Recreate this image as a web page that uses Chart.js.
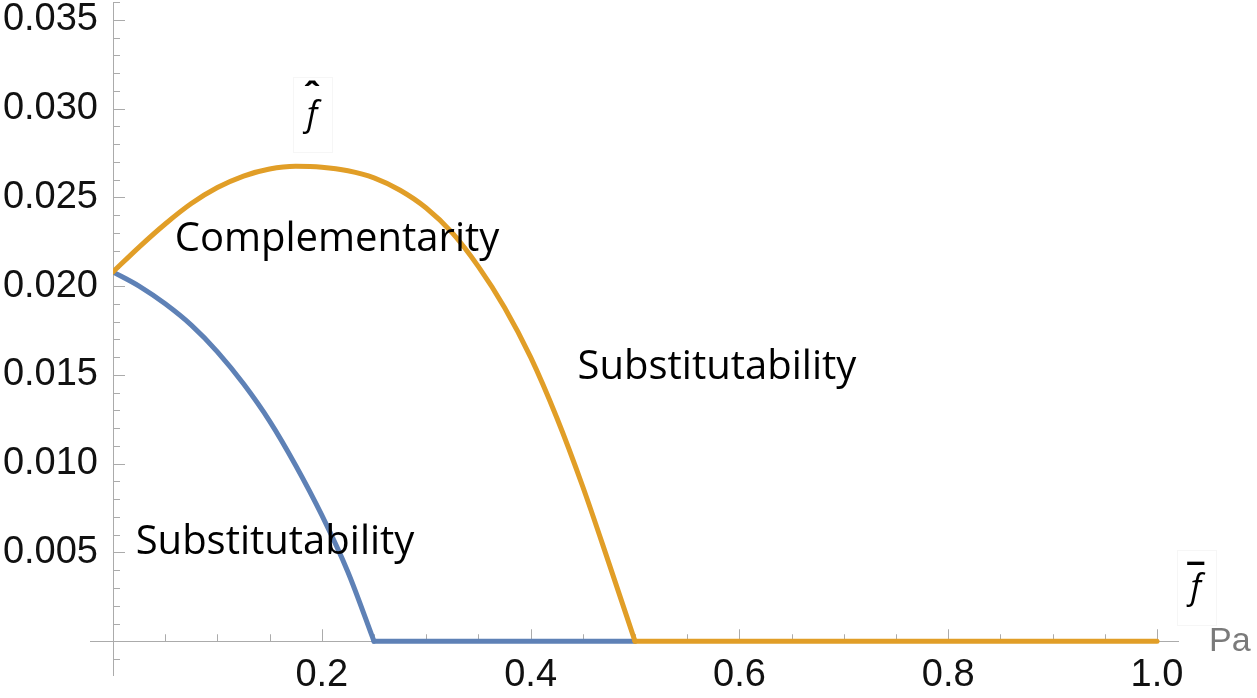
<!DOCTYPE html>
<html><head><meta charset="utf-8">
<script src="https://cdn.jsdelivr.net/npm/chart.js@4/dist/chart.umd.min.js"></script>
<style>html,body{margin:0;padding:0;background:#fff;}canvas{display:block;}</style>
</head><body>
<canvas id="c" width="1257" height="698"></canvas>
<script>
// ---- data ----
const orangeX = [0, 0.025, 0.05, 0.075, 0.1, 0.125, 0.15, 0.175, 0.2, 0.225, 0.25, 0.275, 0.3, 0.325, 0.35, 0.375, 0.4, 0.425, 0.45, 0.475, 0.5];
const orangeY = [0.0208, 0.0222, 0.0235, 0.02465, 0.02555, 0.0262, 0.0266, 0.02675, 0.0267, 0.0265, 0.0261, 0.0254, 0.0244, 0.0230, 0.0211, 0.0188, 0.0160, 0.0126, 0.0087, 0.0044, 0];
const orangeFlatX = [0.5, 1.0];
const orangeFlatY = [0, 0];
const blueX = [0, 0.025, 0.05, 0.075, 0.1, 0.125, 0.15, 0.175, 0.2, 0.225, 0.25];
const blueY = [0.0208, 0.0200, 0.0190, 0.0178, 0.0163, 0.0145, 0.0124, 0.0099, 0.0071, 0.0039, 0];
const blueFlatX = [0.25, 0.5];
const blueFlatY = [0, 0];
const xTickValues = [0.2, 0.4, 0.6, 0.8, 1.0];
const xTickLabels = ['0.2', '0.4', '0.6', '0.8', '1.0'];
const yTickValues = [0.005, 0.010, 0.015, 0.020, 0.025, 0.030, 0.035];
const yTickLabels = ['0.005', '0.010', '0.015', '0.020', '0.025', '0.030', '0.035'];
const regionLabels = ['Complementarity', 'Substitutability', 'Substitutability'];
const curveLabels = ['f', 'f'];
const curveMarks = ['ˆ', '¯'];
const axisLabel = 'Pa';

// ---- placement (data coordinates) and styles ----
const regionPos = [{x: 0.2146, y: 0.0226}, {x: 0.5785, y: 0.01542}, {x: 0.1552, y: 0.00555}];
const curveLabelPos = [{x: 0.1906, y: 0.02954, dy: -19}, {x: 1.0372, y: 0.0029, dy: -8}];
const axisLabelPos = {x: 1.0498, y: 0};
const ORANGE = '#E19E27';
const BLUE = '#5E81B6';
const AXIS = '#ababab';

const pts = (xs, ys) => xs.map((x, i) => ({x, y: ys[i]}));

const extras = {
  id: 'extras',
  beforeDatasetsDraw(chart) {
    const {ctx, scales: {x, y}} = chart;
    const y0 = y.getPixelForValue(0);
    const x0 = x.getPixelForValue(0);
    ctx.save();
    // faint label boxes
    ctx.strokeStyle = '#f6f6f6';
    ctx.lineWidth = 1;
    curveLabelPos.forEach(p => {
      const px = x.getPixelForValue(p.x), py = y.getPixelForValue(p.y);
      ctx.strokeRect(Math.round(px - 19) + 0.5, Math.round(py - 40) + 0.5, 39, 75);
    });
    ctx.strokeStyle = AXIS;
    ctx.beginPath();
    // x-axis extension left of the y-axis
    ctx.moveTo(90, Math.round(y0) + 0.5);
    ctx.lineTo(x0, Math.round(y0) + 0.5);
    // x ticks (inward, upward)
    for (let i = 1; i <= 20; i++) {
      const px = Math.round(x.getPixelForValue(i * 0.05)) + 0.5;
      const len = (i % 4 === 0) ? 12 : 7;
      ctx.moveTo(px, y0);
      ctx.lineTo(px, y0 - len);
    }
    // y ticks (inward, rightward)
    for (let i = -1; i <= 36; i++) {
      if (i === 0) continue;
      const py = Math.round(y.getPixelForValue(i / 1000)) + 0.5;
      const len = (i % 5 === 0) ? 12 : 7;
      ctx.moveTo(x0, py);
      ctx.lineTo(x0 + len, py);
    }
    ctx.stroke();
    ctx.restore();
  },
  afterDatasetsDraw(chart) {
    const {ctx, scales: {x, y}} = chart;
    ctx.save();
    ctx.fillStyle = '#000';
    ctx.font = '40px "Open Sans"';
    ctx.textAlign = 'center';
    ctx.textBaseline = 'middle';
    regionLabels.forEach((t, i) => {
      ctx.fillText(t, x.getPixelForValue(regionPos[i].x), y.getPixelForValue(regionPos[i].y));
    });
    curveLabels.forEach((t, i) => {
      const p = curveLabelPos[i];
      const px = x.getPixelForValue(p.x), py = y.getPixelForValue(p.y);
      ctx.font = 'italic 34px "Open Sans"';
      ctx.fillText(t, px, py);
      ctx.font = 'bold 34px "Open Sans"';
      ctx.fillText(curveMarks[i], px, py + p.dy);
    });
    ctx.fillStyle = '#7a7a7a';
    ctx.font = '34px "Liberation Sans"';
    ctx.textAlign = 'left';
    ctx.fillText(axisLabel, x.getPixelForValue(axisLabelPos.x), y.getPixelForValue(axisLabelPos.y));
    ctx.restore();
  }
};

const lineStyle = {borderWidth: 5, pointRadius: 0, borderCapStyle: 'round', borderJoinStyle: 'round'};

new Chart(document.getElementById('c'), {
  type: 'line',
  data: {
    datasets: [
      {data: pts(orangeX, orangeY), borderColor: ORANGE, cubicInterpolationMode: 'monotone', ...lineStyle},
      {data: pts(orangeFlatX, orangeFlatY), borderColor: ORANGE, ...lineStyle},
      {data: pts(blueX, blueY), borderColor: BLUE, cubicInterpolationMode: 'monotone', ...lineStyle},
      {data: pts(blueFlatX, blueFlatY), borderColor: BLUE, ...lineStyle}
    ]
  },
  options: {
    responsive: false,
    animation: false,
    devicePixelRatio: 1,
    layout: {padding: {left: 0, right: 79, top: 2, bottom: 23}},
    plugins: {legend: {display: false}, tooltip: {enabled: false}},
    scales: {
      x: {
        type: 'linear', position: {y: 0}, min: 0, max: 1.0201,
        grid: {display: false, drawTicks: false},
        border: {display: true, color: AXIS, width: 1},
        afterBuildTicks: s => { s.ticks = xTickValues.map(v => ({value: v})); },
        afterFit: s => { s.paddingLeft = 0; s.paddingRight = 0; },
        ticks: {
          autoSkip: false, maxRotation: 0, padding: 11, color: '#111',
          font: {family: '"Liberation Sans", Arial', size: 38},
          callback: (v, i) => xTickLabels[i]
        }
      },
      y: {
        type: 'linear', position: 'left', min: -0.0019, max: 0.036,
        grid: {display: false, drawTicks: false},
        border: {display: true, color: AXIS, width: 1},
        afterBuildTicks: s => { s.ticks = yTickValues.map(v => ({value: v})); },
        afterFit: s => { s.width = 113; s.paddingTop = 0; s.paddingBottom = 0; },
        ticks: {
          autoSkip: false, padding: 15, color: '#111',
          font: {family: '"Liberation Sans", Arial', size: 38},
          callback: (v, i) => yTickLabels[i]
        }
      }
    }
  },
  plugins: [extras]
});
</script>
</body></html>
